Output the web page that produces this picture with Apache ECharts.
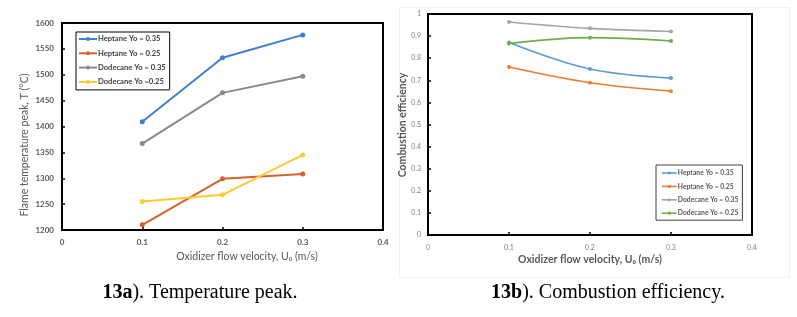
<!DOCTYPE html>
<html><head><meta charset="utf-8">
<script src="https://cdn.jsdelivr.net/npm/echarts@6/dist/echarts.min.js"></script>
<style>html,body{margin:0;padding:0;background:#fff}#c{width:797px;height:317px}</style>
</head><body><div id="c"></div>
<script>
// ---- data ----
var velocities = [0.1, 0.2, 0.3];
var xTicks = [0, 0.1, 0.2, 0.3, 0.4];

var tempNames = ['Heptane Yo = 0.35', 'Heptane Yo = 0.25', 'Dodecane Yo = 0.35', 'Dodecane Yo =0.25'];
var tempHeptane035 = [1409, 1533, 1577];
var tempHeptane025 = [1210, 1299, 1308];
var tempDodecane035 = [1367, 1465, 1497];
var tempDodecane025 = [1255, 1268, 1345];

var effNames = ['Heptane Yo = 0.35', 'Heptane Yo = 0.25', 'Dodecane Yo = 0.35', 'Dodecane Yo = 0.25'];
var effHeptane035 = [0.871, 0.751, 0.710];
var effHeptane025 = [0.760, 0.689, 0.651];
var effDodecane035 = [0.964, 0.935, 0.921];
var effDodecane025 = [0.867, 0.893, 0.878];

var captionA = ['13a', '). Temperature peak.'];
var captionB = ['13b', '). Combustion efficiency.'];
var xTitle = 'Oxidizer flow velocity, U\u2080 (m/s)';
var yTitleA = 'Flame temperature peak, T (\u00b0C)';
var yTitleB = 'Combustion efficiency';

// ---- styles ----
var colA = ['#3f7fcf', '#d6622a', '#8a8a8a', '#ffc933'];
var colB = ['#5b9bd5', '#ed7d31', '#a5a5a5', '#70ad47'];
var font = 'Lato, "Open Sans", sans-serif';

function pairs(ys){ return velocities.map(function(x,i){ return [x, ys[i]]; }); }
function fmt(v){ return String(Math.round(v*10)/10); }

var tempSeries = [tempHeptane035, tempHeptane025, tempDodecane035, tempDodecane025];
var effSeries = [effHeptane035, effHeptane025, effDodecane035, effDodecane025];

var series = [];
tempSeries.forEach(function(s,i){
  series.push({type:'line', name:tempNames[i], xAxisIndex:0, yAxisIndex:0, data:pairs(s),
    symbol:'circle', symbolSize:5, color:colA[i], lineStyle:{width:2, color:colA[i]},
    itemStyle:{color:colA[i]}, z:3});
});
effSeries.forEach(function(s,i){
  series.push({type:'line', name:effNames[i] + (i<2 ? '\u200b' : ''), xAxisIndex:1, yAxisIndex:1, data:pairs(s),
    smooth:0.35, symbol:'circle', symbolSize:4, color:colB[i], lineStyle:{width:1.6, color:colB[i]},
    itemStyle:{color:colB[i]}, z:3});
});

function xAx(grid, lblColor, lblSize, margin){
  return {type:'value', gridIndex:grid, min:0, max:0.4, interval:0.1,
    axisLine:{show:true, lineStyle:{color:'#000', width:2}},
    axisTick:{show:true, inside:true, length:3, lineStyle:{color:'#000', width:1.5}},
    splitLine:{show:false},
    axisLabel:{color:lblColor, fontSize:lblSize, fontFamily:font, fontWeight:grid===0?'bold':'normal', margin:margin,
      formatter:fmt}};
}

var option = {
  animation:false,
  backgroundColor:'#fff',
  grid:[
    {left:62, top:23, width:321, height:207, show:true, borderColor:'#000', borderWidth:2, backgroundColor:'transparent'},
    {left:428, top:14, width:324, height:221, show:true, borderColor:'#000', borderWidth:2, backgroundColor:'transparent'}
  ],
  xAxis:[ xAx(0,'#595959',8,8), xAx(1,'#7f7f7f',7,9) ],
  yAxis:[
    {type:'value', gridIndex:0, min:1200, max:1600, interval:50,
      axisLine:{show:true, lineStyle:{color:'#000', width:2}},
      axisTick:{show:true, inside:true, length:3, lineStyle:{color:'#000', width:1.5}},
      splitLine:{show:false},
      axisLabel:{color:'#595959', fontSize:8, fontWeight:'bold', fontFamily:font, margin:8,
        formatter:function(v){ return String(v); }}},
    {type:'value', gridIndex:1, min:0, max:1, interval:0.1,
      axisLine:{show:true, lineStyle:{color:'#000', width:2}},
      axisTick:{show:true, inside:true, length:3, lineStyle:{color:'#000', width:1.5}},
      splitLine:{show:false},
      axisLabel:{color:'#7f7f7f', fontSize:7, fontFamily:font, margin:7, formatter:fmt}}
  ],
  legend:[
    {orient:'vertical', left:76, top:32,
      padding:[3,4,4,2], itemGap:6.3, itemWidth:18, itemHeight:5,
      borderColor:'#000', borderWidth:1, backgroundColor:'#fff',
      textStyle:{color:'#404040', fontSize:7.6, fontWeight:'bold', fontFamily:font, padding:[0,0,0,-4], lineHeight:8},
      data: tempNames.map(function(n,i){ return {name:n, itemStyle:{color:colA[i]}, lineStyle:{color:colA[i], width:2}}; })},
    {orient:'vertical', left:656, top:165,
      padding:[4,4,3,5], itemGap:5.4, itemWidth:15, itemHeight:4,
      borderColor:'#404040', borderWidth:1, backgroundColor:'#fff',
      textStyle:{color:'#595959', fontSize:6.8, fontWeight:'bold', fontFamily:font, padding:[0,0,0,-4], lineHeight:8},
      data: effNames.map(function(n,i){ return {name:n + (i<2 ? '\u200b' : ''), itemStyle:{color:colB[i]}, lineStyle:{color:colB[i], width:1.6}}; })}
  ],
  series: series,
  graphic:[
    {type:'rect', left:397, top:5, shape:{width:390, height:270}, style:{fill:'none', stroke:'#f0f0f0', lineWidth:1}, z:-1, silent:true},
    {type:'text', x:247, y:257, style:{text:xTitle, fill:'#595959', font:'10.5px ' + font, textAlign:'center', textVerticalAlign:'middle'}},
    {type:'text', x:590, y:260, style:{text:xTitle, fill:'#595959', font:'bold 10.5px ' + font, textAlign:'center', textVerticalAlign:'middle'}},
    {type:'text', x:25, y:145, rotation:Math.PI/2, style:{text:yTitleA, fill:'#595959', font:'10.5px ' + font, textAlign:'center', textVerticalAlign:'middle'}},
    {type:'text', x:403, y:125, rotation:Math.PI/2, style:{text:yTitleB, fill:'#595959', font:'bold 10.5px ' + font, textAlign:'center', textVerticalAlign:'middle'}},
    {type:'text', x:200, y:293, style:{text:'{b|' + captionA[0] + '}{n|' + captionA[1] + '}', textAlign:'center', textVerticalAlign:'middle',
      rich:{b:{font:'bold 20px "Liberation Serif", serif', fill:'#000'}, n:{font:'20px "Liberation Serif", serif', fill:'#000'}}}},
    {type:'text', x:608, y:293, style:{text:'{b|' + captionB[0] + '}{n|' + captionB[1] + '}', textAlign:'center', textVerticalAlign:'middle',
      rich:{b:{font:'bold 20px "Liberation Serif", serif', fill:'#000'}, n:{font:'20px "Liberation Serif", serif', fill:'#000'}}}}
  ]
};
var chart = echarts.init(document.getElementById('c'), null, {renderer:'canvas'});
chart.setOption(option);
</script></body></html>
